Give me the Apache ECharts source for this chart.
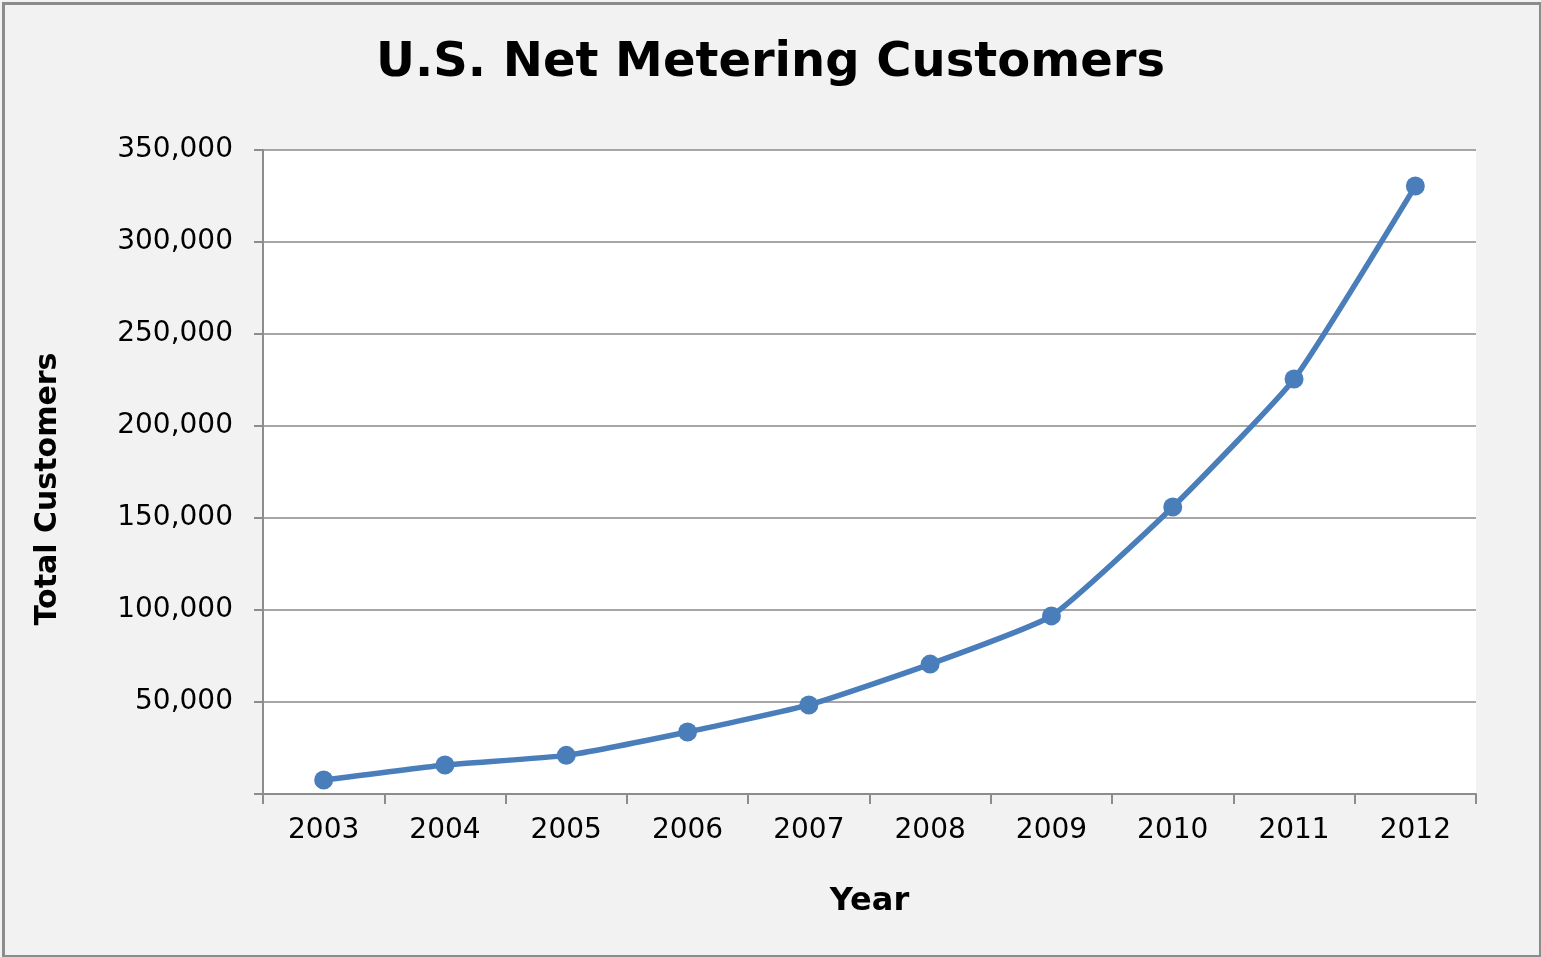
<!DOCTYPE html>
<html><head><meta charset="utf-8">
<script src="https://cdn.jsdelivr.net/npm/echarts@6/dist/echarts.min.js"></script>
<style>html,body{margin:0;padding:0;background:#fff}#c{width:1541px;height:957px}</style>
</head><body><div id="c"></div>
<script>
const years = ['2003','2004','2005','2006','2007','2008','2009','2010','2011','2012'];
const customers = [7600, 15800, 21000, 33700, 48400, 70600, 96800, 156000, 225500, 330400];
const yTicks = [0, 50000, 100000, 150000, 200000, 250000, 300000, 350000];
const titleText = 'U.S. Net Metering Customers';
const xName = 'Year';
const yName = 'Total Customers';

const chart = echarts.init(document.getElementById('c'));
const F = 'DejaVu Sans';
chart.setOption({
  backgroundColor: '#f2f2f2',
  graphic: [{type:'rect', left:1, top:1, shape:{width:1537, height:953}, style:{fill:'none', stroke:'#8c8c8c', lineWidth:3}, silent:true}],
  title: {text: titleText, left: 'center', top: 35, textStyle:{fontFamily: F, fontWeight:'bold', fontSize:48, color:'#000'}},
  grid: {left: 263, top: 150, width: 1213, height: 644, show: true, backgroundColor:'#fff', borderWidth:0},
  xAxis: {
    type:'category', data: years, boundaryGap:true,
    name: xName, nameLocation:'middle', nameGap: 92,
    nameTextStyle:{fontFamily:F, fontWeight:'bold', fontSize:32, color:'#000'},
    axisLine:{lineStyle:{color:'#8c8c8c', width:2}},
    axisTick:{show:true, length:10, lineStyle:{color:'#8c8c8c', width:2}},
    axisLabel:{fontFamily:F, fontSize:28, color:'#000', margin:23}
  },
  yAxis: {
    type:'value', min: yTicks[0], max: yTicks[yTicks.length-1], interval: 50000,
    name: yName, nameLocation:'middle', nameGap: 200, nameRotate: 90,
    nameTextStyle:{fontFamily:F, fontWeight:'bold', fontSize:30, color:'#000', padding:[0,34,0,0]},
    axisLine:{show:true, lineStyle:{color:'#8c8c8c', width:2}},
    axisTick:{show:true, length:9, lineStyle:{color:'#8c8c8c', width:2}},
    splitLine:{lineStyle:{color:'#a6a6a6', width:2}},
    axisLabel:{fontFamily:F, fontSize:28, color:'#000', margin:30,
      formatter: v => v === 0 ? '' : v.toLocaleString('en-US')}
  },
  series: [{
    type:'line', data: customers, smooth: 0.15,
    symbol:'circle', symbolSize:19,
    lineStyle:{color:'#4a7ebb', width:5.5},
    itemStyle:{color:'#4a7ebb'},
    animation:false
  }]
});
</script></body></html>
